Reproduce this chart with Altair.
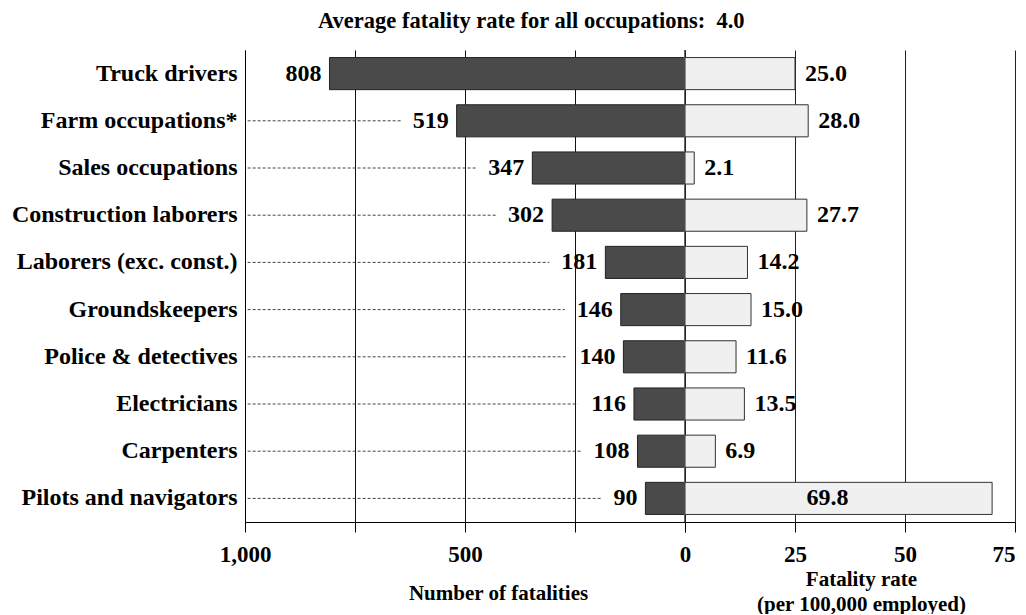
import altair as alt
import pandas as pd

occupations = [
    "Truck drivers", "Farm occupations*", "Sales occupations",
    "Construction laborers", "Laborers (exc. const.)", "Groundskeepers",
    "Police & detectives", "Electricians", "Carpenters", "Pilots and navigators",
]
fatalities = [808, 519, 347, 302, 181, 146, 140, 116, 108, 90]
rates = [25.0, 28.0, 2.1, 27.7, 14.2, 15.0, 11.6, 13.5, 6.9, 69.8]
count_ticks = [0, 250, 500, 750, 1000]
rate_ticks = [0, 25, 50, 75]

df = pd.DataFrame({"occ": occupations, "count": fatalities, "rate": rates})
df["count_label"] = df["count"].astype(str)
df["rate_label"] = df["rate"].map(lambda v: f"{v:.1f}")

FONT = "Liberation Serif"
W_L, W_R, H = 440, 330, 472

yscale = alt.Scale(paddingInner=0.32, paddingOuter=0.16)

y_left = alt.Y(
    "occ:N", sort=occupations, scale=yscale,
    axis=alt.Axis(title=None, labelFont=FONT, labelFontSize=24, labelFontWeight="bold",
                  labelColor="black", labelPadding=8, labelLimit=0, ticks=False,
                  domain=True, domainColor="#000", grid=False),
)
y_right = alt.Y("occ:N", sort=occupations, scale=yscale, axis=None)

lscale = alt.Scale(domain=[0, 1000], reverse=True, nice=False)
x_left = alt.X(
    "count:Q", scale=lscale,
    axis=alt.Axis(values=count_ticks, labelFlush=False,
                  labelExpr="datum.value % 500 == 0 ? format(datum.value, ',') : ''",
                  title="Number of fatalities", titleX=253, titleY=77,
                  titleAlign="center", titleBaseline="alphabetic",
                  grid=True, gridColor="#111"),
)
x_right = alt.X(
    "rate:Q",
    scale=alt.Scale(domain=[0, 75], nice=False),
    axis=alt.Axis(values=rate_ticks, labelFlush=True,
                  labelExpr="datum.value == 0 ? '' : datum.label",
                  title=["Fatality rate", "(per 100,000 employed)"],
                  titleX=176, titleY=63, titleAlign="center",
                  titleBaseline="alphabetic", titleLineHeight=25,
                  grid=True, gridColor="#222"),
)

base_l = alt.Chart(df).encode(y=y_left)

bars_l = base_l.mark_bar(color="#4a4a4a", stroke="#222", strokeWidth=1).encode(x=x_left)
leaders = (
    base_l.transform_calculate(
        lead_start="994",
        lead_end="datum.count + (20 + 12 * length(datum.count_label)) / 0.44")
    .transform_filter("datum.lead_end < 900")
    .mark_rule(color="#444", strokeDash=[3, 2], strokeWidth=1)
    .encode(x=alt.X("lead_start:Q"), x2=alt.X2("lead_end:Q"))
)
labels_l = base_l.mark_text(
    align="right", baseline="middle", dx=-8, font=FONT, fontSize=24,
    fontWeight="bold", color="black",
).encode(x=alt.X("count:Q"), text="count_label:N")
zero = (
    alt.Chart(df).transform_calculate(z="0")
    .mark_rule(color="#666", strokeWidth=1.5)
    .encode(x=alt.X("z:Q"))
)

left = alt.layer(bars_l, leaders, labels_l, zero).properties(width=W_L, height=H)

base_r = alt.Chart(df).encode(y=y_right)
bars_r = base_r.mark_bar(color="#f0f0f0", stroke="#333", strokeWidth=1).encode(x=x_right)
labels_r = base_r.transform_filter("datum.rate < 50").mark_text(
    align="left", baseline="middle", dx=10, font=FONT, fontSize=24,
    fontWeight="bold", color="black",
).encode(x=alt.X("rate:Q"), text="rate_label:N")
labels_in = base_r.transform_filter("datum.rate >= 50").transform_calculate(
    mid="datum.rate / 2").mark_text(
    align="center", baseline="middle", dx=-11, font=FONT, fontSize=24,
    fontWeight="bold", color="black",
).encode(x=alt.X("mid:Q"), text="rate_label:N")

right = alt.layer(bars_r, labels_r, labels_in).properties(width=W_R, height=H)

chart = (
    alt.hconcat(left, right, spacing=0, bounds="flush")
    .properties(
        title=alt.TitleParams(
            "Average fatality rate for all occupations:\u00a0 4.0",
            font=FONT, fontSize=22.5, fontWeight="bold", color="black",
            anchor="start", frame="group", dx=73, offset=17,
        ),
        padding={"left": 3, "top": 1, "right": 0, "bottom": 0},
    )
    .configure_view(stroke=None)
    .configure_axis(
        labelFont=FONT, labelFontSize=23, labelFontWeight="bold", labelColor="black",
        tickColor="#000", tickSize=10, labelPadding=11, domainColor="#000",
        titleFont=FONT, titleFontSize=21, titleFontWeight="bold", titleColor="black",
    )
)

chart.save("out.html", embed_options={"renderer": "svg", "actions": False})
